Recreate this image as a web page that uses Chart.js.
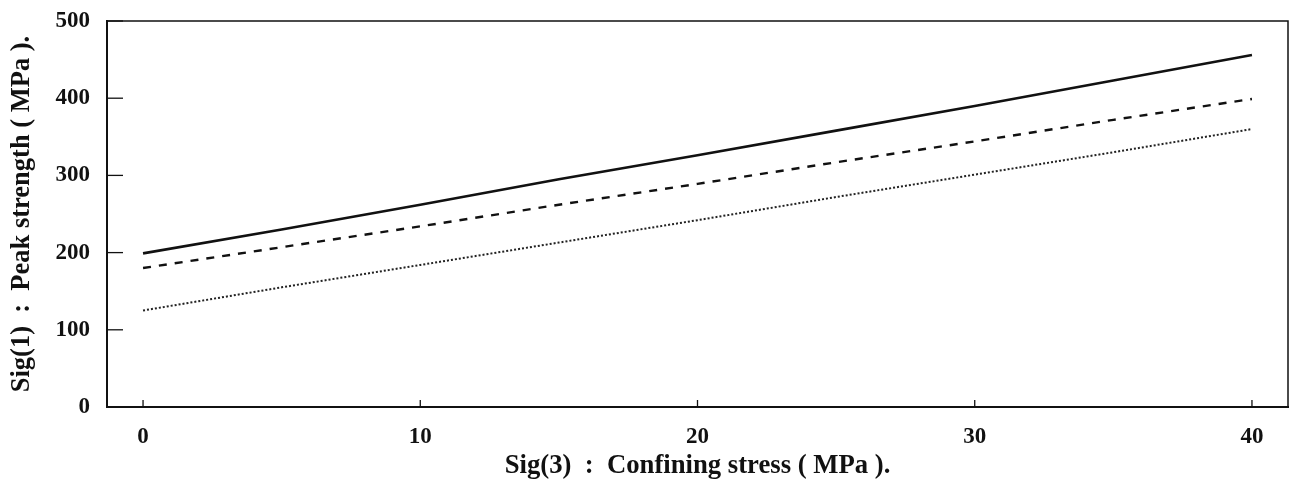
<!DOCTYPE html>
<html>
<head>
<meta charset="utf-8">
<title>Peak strength vs confining stress</title>
<script src="https://cdn.jsdelivr.net/npm/chart.js@4"></script>
<style>
    html, body { margin: 0; padding: 0; background: #fff; }
    #wrap { width: 1294px; height: 488px; }
</style>
</head>
<body>
<div id="wrap"><canvas id="resistenciaChart" width="1294" height="488"></canvas></div>
<script>
// valores
const confinamiento = [0, 5, 10, 15, 20, 25, 30, 35, 40];
const curvaSolida = [199, 230, 262, 295, 326, 358, 390, 423, 456];
const curvaGuiones = [180, 207, 234, 262, 289, 317, 344, 372, 399];
const curvaPuntos = [125, 155, 184, 213, 242, 272, 301, 330, 360];
const ticksX = [0, 10, 20, 30, 40];
const ticksY = [0, 100, 200, 300, 400, 500];

const fuente = "'Liberation Serif', 'Times New Roman', serif";

function puntos(valores) {
    return confinamiento.map((x, i) => ({ x: x, y: valores[i] }));
}

// marco superior/derecho y ticks hacia adentro
const marcoPlugin = {
    id: 'marco',
    afterDraw(chart) {
        const { ctx, chartArea, scales } = chart;
        ctx.save();
        ctx.strokeStyle = '#111';
        ctx.lineWidth = 1.5;
        ctx.beginPath();
        ctx.moveTo(chartArea.left, chartArea.top);
        ctx.lineTo(chartArea.right, chartArea.top);
        ctx.lineTo(chartArea.right, chartArea.bottom);
        ctx.stroke();

        ctx.lineWidth = 1.3;
        ticksY.forEach(v => {
            const y = scales.y.getPixelForValue(v);
            ctx.beginPath();
            ctx.moveTo(chartArea.left, y);
            ctx.lineTo(chartArea.left + 16, y);
            ctx.stroke();
        });
        ticksX.forEach(v => {
            const x = scales.x.getPixelForValue(v);
            ctx.beginPath();
            ctx.moveTo(x, chartArea.bottom);
            ctx.lineTo(x, chartArea.bottom - 7);
            ctx.stroke();
        });
        ctx.restore();
    }
};

const ctx = document.getElementById('resistenciaChart').getContext('2d');
const resistenciaChart = new Chart(ctx, {
    type: 'line',
    data: {
        datasets: [
            {
                label: 'Solida',
                data: puntos(curvaSolida),
                borderColor: '#111',
                borderWidth: 2.6,
                pointRadius: 0,
                tension: 0
            },
            {
                label: 'Guiones',
                data: puntos(curvaGuiones),
                borderColor: '#111',
                borderWidth: 2.4,
                borderDash: [8, 8],
                pointRadius: 0,
                tension: 0
            },
            {
                label: 'Puntos',
                data: puntos(curvaPuntos),
                borderColor: '#222',
                borderWidth: 2,
                borderDash: [2, 2],
                pointRadius: 0,
                tension: 0
            }
        ]
    },
    options: {
        responsive: false,
        animation: false,
        devicePixelRatio: 1,
        layout: { padding: { left: 0, right: 6, top: 21, bottom: 0 } },
        plugins: {
            legend: { display: false },
            tooltip: { enabled: false }
        },
        scales: {
            x: {
                type: 'linear',
                min: -1.3,
                max: 41.3,
                grid: { display: false, drawTicks: false },
                border: { display: true, color: '#111', width: 2 },
                ticks: {
                    stepSize: 10,
                    includeBounds: false,
                    padding: 16,
                    color: '#111',
                    font: { family: fuente, size: 23, weight: 'bold' }
                },
                title: {
                    display: true,
                    text: 'Sig(3)  :  Confining stress ( MPa ).',
                    color: '#111',
                    padding: { top: 0, bottom: 6 },
                    font: { family: fuente, size: 26.7, weight: 'bold' }
                },
                afterFit(scale) {
                    scale.height = 81;
                    scale.paddingLeft = 0;
                    scale.paddingRight = 0;
                }
            },
            y: {
                type: 'linear',
                min: 0,
                max: 500,
                grid: { display: false, drawTicks: false },
                border: { display: true, color: '#111', width: 2 },
                ticks: {
                    stepSize: 100,
                    padding: 17,
                    color: '#111',
                    font: { family: fuente, size: 23, weight: 'bold' }
                },
                title: {
                    display: true,
                    text: 'Sig(1)  :  Peak strength ( MPa ).',
                    color: '#111',
                    padding: { top: 6, bottom: 0 },
                    font: { family: fuente, size: 26.5, weight: 'bold' }
                },
                afterFit(scale) {
                    scale.width = 107;
                    scale.paddingTop = 0;
                    scale.paddingBottom = 0;
                }
            }
        }
    },
    plugins: [marcoPlugin]
});
</script>
</body>
</html>
